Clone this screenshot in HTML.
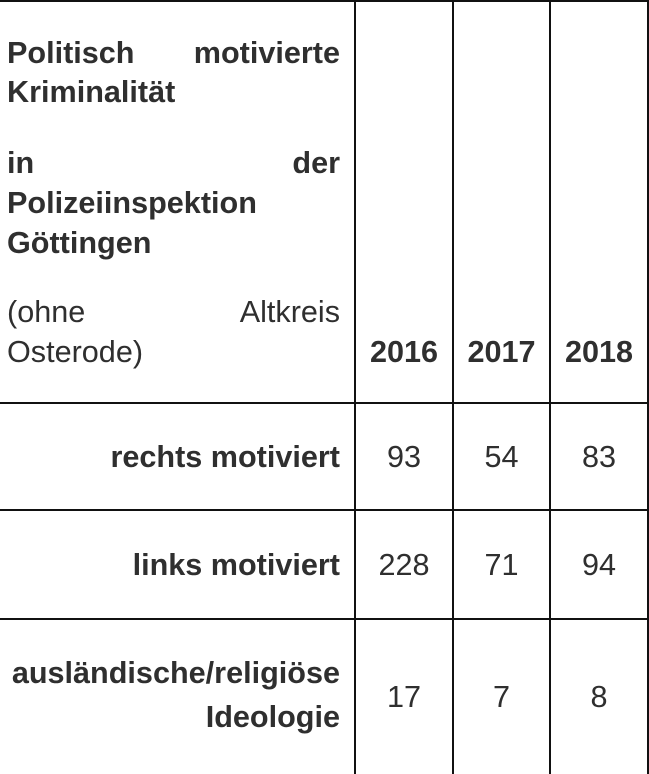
<!DOCTYPE html>
<html>
<head>
<meta charset="utf-8">
<style>
  html, body { margin:0; padding:0; background:#fff; }
  body { width:649px; height:774px; position:relative; overflow:hidden;
         font-family:"Liberation Sans", Arial, Helvetica, sans-serif; color:#2f2f2f; }
  .h { position:absolute; left:0; width:649px; height:2px; background:#111; }
  .v { position:absolute; top:0; width:2px; height:774px; background:#111; }
  .t { position:absolute; font-size:30.6px; line-height:40px; height:40px; white-space:nowrap; }
  .b { font-weight:bold; }
  .lc { left:7px; width:333px; }
  .j { text-align:justify; text-align-last:justify; -moz-text-align-last:justify; }
  .l { text-align:left; }
  .r { text-align:right; }
  .c1 { left:356px; width:96px; text-align:center; }
  .c2 { left:454px; width:95px; text-align:center; }
  .c3 { left:551px; width:96px; text-align:center; }
</style>
</head>
<body>
  <!-- borders -->
  <div class="h" style="top:0;"></div>
  <div class="h" style="top:402px;"></div>
  <div class="h" style="top:509px;"></div>
  <div class="h" style="top:618px;"></div>
  <div class="v" style="left:354px;"></div>
  <div class="v" style="left:452px;"></div>
  <div class="v" style="left:549px;"></div>
  <div class="v" style="left:647px;"></div>

  <!-- header -->
  <div class="t b lc j" style="top:32.7px;">Politisch motivierte</div>
  <div class="t b lc l" style="top:72.1px;">Kriminalität</div>
  <div class="t b lc j" style="top:142.7px;">in der</div>
  <div class="t b lc l" style="top:182.7px;">Polizeiinspektion</div>
  <div class="t b lc l" style="top:222.7px;">Göttingen</div>
  <div class="t lc j" style="top:292.4px;">(ohne Altkreis</div>
  <div class="t lc l" style="top:332.4px;">Osterode)</div>
  <div class="t b c1" style="top:332.4px;">2016</div>
  <div class="t b c2" style="top:332.4px;">2017</div>
  <div class="t b c3" style="top:332.4px;">2018</div>

  <!-- row 1 -->
  <div class="t b lc r" style="top:437.4px;">rechts motiviert</div>
  <div class="t c1" style="top:437.4px;">93</div>
  <div class="t c2" style="top:437.4px;">54</div>
  <div class="t c3" style="top:437.4px;">83</div>

  <!-- row 2 -->
  <div class="t b lc r" style="top:545.4px;">links motiviert</div>
  <div class="t c1" style="top:545.4px;">228</div>
  <div class="t c2" style="top:545.4px;">71</div>
  <div class="t c3" style="top:545.4px;">94</div>

  <!-- row 3 -->
  <div class="t b lc r" style="top:653.4px;">ausländische/religiöse</div>
  <div class="t b lc r" style="top:697.4px;">Ideologie</div>
  <div class="t c1" style="top:677.4px;">17</div>
  <div class="t c2" style="top:677.4px;">7</div>
  <div class="t c3" style="top:677.4px;">8</div>
</body>
</html>
